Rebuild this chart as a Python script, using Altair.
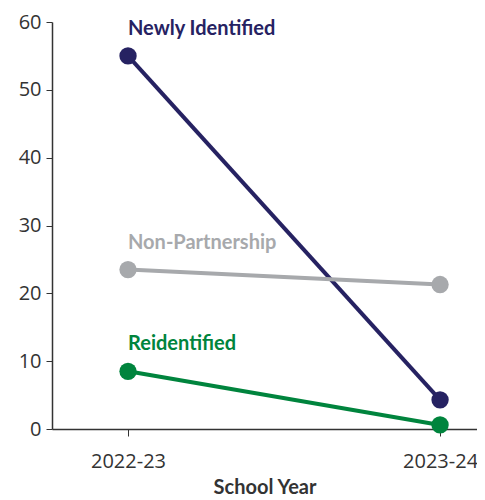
import altair as alt
import pandas as pd

years = ["2022-23", "2023-24"]
series = ["Newly Identified", "Non-Partnership", "Reidentified"]
newly = [55.0, 4.3]
non_partnership = [23.5, 21.3]
reidentified = [8.5, 0.6]
colors = ["#262262", "#a7a9ac", "#00843d"]

rows = []
for name, vals in zip(series, [newly, non_partnership, reidentified]):
    for yr, v in zip(years, vals):
        rows.append({"series": name, "year": yr, "value": v})
df = pd.DataFrame(rows)
labels_df = df[df["year"] == years[0]]

color = alt.Color("series:N", scale=alt.Scale(domain=series, range=colors), legend=None)
x = alt.X("year:O", scale=alt.Scale(domain=years, type="point", padding=0.181, align=0.673),
          axis=alt.Axis(title="School Year", labelAngle=0, labelFontSize=20, labelFont="Open Sans",
                        labelColor="#333333", titleFont="Lato", titleFontSize=20, titleFontWeight="bold",
                        titleColor="#333333", domainColor="#333333", tickColor="#333333", tickSize=7,
                        labelPadding=15, titlePadding=6, domainWidth=1.5))
y = alt.Y("value:Q", scale=alt.Scale(domain=[0, 60], nice=False),
          axis=alt.Axis(title=None, values=[0, 10, 20, 30, 40, 50, 60], labelFontSize=20,
                        labelFont="Open Sans", labelColor="#333333", domainColor="#333333",
                        tickColor="#333333", tickSize=6, grid=False, labelPadding=5, domainWidth=1.5))

base = alt.Chart(df)
lines = base.mark_line(strokeWidth=4).encode(x=x, y=y, color=color, detail="series:N")
points = base.mark_circle(size=300, opacity=1).encode(x=x, y=y, color=color)
text = alt.Chart(labels_df).mark_text(align="left", baseline="middle", dy=-27, fontSize=20,
                                      font="Lato", fontWeight="bold").encode(
    x=x, y=y, text="series:N", color=color)

chart = (lines + points + text).properties(
    width=425, height=407,
    autosize=alt.AutoSizeParams(type="none"),
    padding={"left": 44, "top": 14, "right": 0, "bottom": 70},
).configure_view(stroke=None)

chart.save("out.html", embed_options={"renderer": "svg", "actions": False})
